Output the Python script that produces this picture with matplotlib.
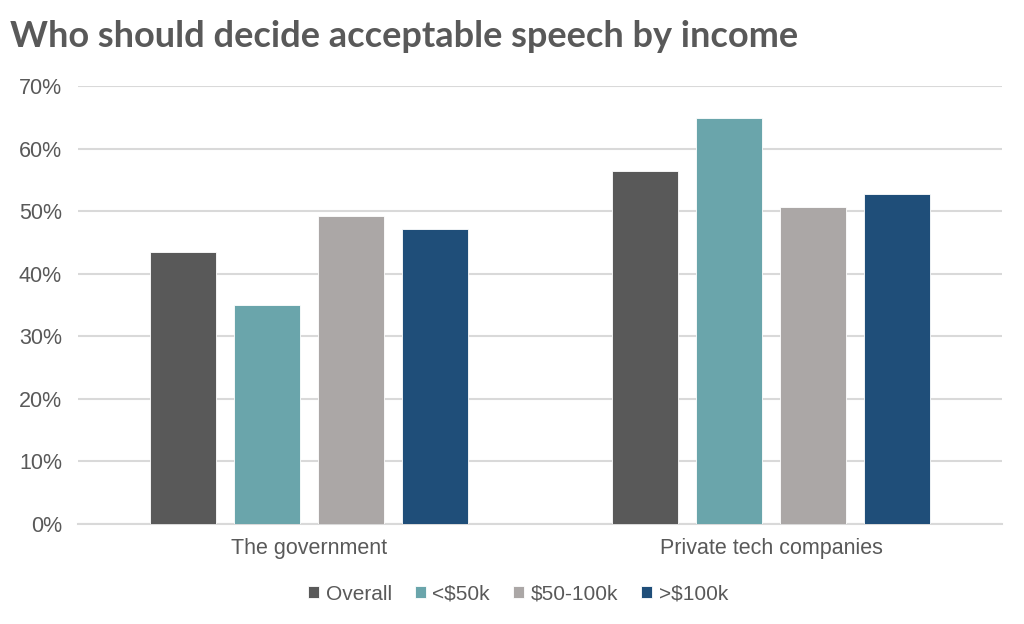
import matplotlib
matplotlib.use("Agg")
import matplotlib.pyplot as plt
import numpy as np
from matplotlib.ticker import FuncFormatter

categories = ["The government", "Private tech companies"]
series_names = ["Overall", "<$50k", "$50-100k", ">$100k"]
overall = [0.435, 0.564]
under50 = [0.350, 0.649]
mid = [0.492, 0.506]
over100 = [0.471, 0.528]
yticks = [0, 0.1, 0.2, 0.3, 0.4, 0.5, 0.6, 0.7]

colors = ["#595959", "#6aa5ab", "#aba7a6", "#1f4e79"]
values = [overall, under50, mid, over100]

plt.rcParams['font.family'] = ['Liberation Sans', 'DejaVu Sans']
fig = plt.figure(figsize=(10.24, 6.24), dpi=100)
ax = fig.add_axes([78/1024, 1-524/624, 924/1024, (524-86)/624])

x = np.arange(len(categories))
slot = 0.1818
width = 0.143
for i, (name, vals, c) in enumerate(zip(series_names, values, colors)):
    ax.bar(x + (i - 1.5) * slot, vals, width, color=c, label=name,
           edgecolor='white', linewidth=0.6, zorder=3)

ax.set_xlim(-0.5, 1.5)
ax.set_ylim(0, 0.7)
ax.set_yticks(yticks)
ax.yaxis.set_major_formatter(FuncFormatter(lambda v, p: f"{v*100:.0f}%"))
ax.set_xticks(x)
ax.set_xticklabels(categories)
ax.grid(axis='y', color='#d9d9d9', linewidth=1.5, zorder=0)
for s in ['top', 'right', 'left']:
    ax.spines[s].set_visible(False)
ax.spines['bottom'].set_color('#d9d9d9')
ax.spines['bottom'].set_linewidth(1.5)
ax.tick_params(axis='both', length=0, labelsize=15.5, labelcolor='#595959')
ax.tick_params(axis='y', pad=11.5)
ax.tick_params(axis='x', pad=10)

fig.text(10/1024, 1-47/624, "Who should decide acceptable speech by income",
         fontsize=26, fontweight='bold', color='#595959', family=['Lato', 'DejaVu Sans'],
         va='baseline', ha='left')

leg = fig.legend(loc='center', bbox_to_anchor=(518/1024, 1-594/624), ncol=4,
                 frameon=False, fontsize=15, handlelength=0.55, handleheight=0.55,
                 handletextpad=0.3, columnspacing=1.1)
for t in leg.get_texts():
    t.set_color('#595959')

fig.savefig("out.png", dpi=100)
